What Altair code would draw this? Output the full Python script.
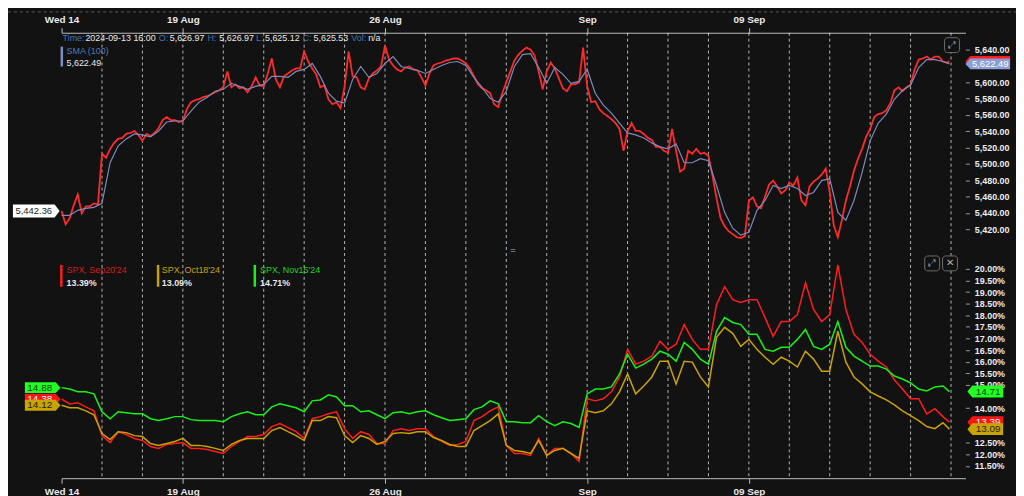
import altair as alt
import pandas as pd

FONT = "Liberation Sans"
BG = "#121212"

# ---------------- data ----------------
tick_days = [0, 3, 8, 13, 17]
tick_labels = ["Wed 14", "19 Aug", "26 Aug", "Sep", "09 Sep"]
day_breaks = list(range(1, 23))
# axis values shown (values hidden behind the value tags are left out)
price_ticks = [5420, 5440, 5460, 5480, 5500, 5520, 5540, 5560, 5580, 5600, 5640]
iv_ticks = [11.5, 12.0, 12.5, 14.0, 15.0, 15.5, 16.0, 16.5, 17.0,
            17.5, 18.0, 18.5, 19.0, 19.5, 20.0]

# SPX price, 10 readings per trading day (Aug 14 .. Sep 13)
price_by_day = [
    [5442.4, 5426.1, 5433.4, 5449.2, 5462.5, 5439.4, 5448.0, 5448.0, 5451.6, 5450.4],
    [5512.4, 5507.5, 5518.4, 5525.7, 5530.6, 5531.8, 5536.7, 5537.9, 5540.3, 5535.5],
    [5528.2, 5536.7, 5534.3, 5537.9, 5544.0, 5553.7, 5557.3, 5553.7, 5553.7, 5551.3],
    [5552.5, 5567.1, 5575.6, 5578.0, 5579.2, 5581.7, 5582.9, 5585.3, 5587.7, 5590.2],
    [5593.8, 5613.3, 5593.8, 5597.4, 5592.6, 5593.8, 5587.7, 5595.0, 5606.0, 5596.2],
    [5595.0, 5610.8, 5629.1, 5603.5, 5593.8, 5607.2, 5610.8, 5614.5, 5616.9, 5616.9],
    [5637.6, 5625.4, 5616.9, 5609.6, 5593.8, 5596.2, 5579.2, 5573.1, 5575.6, 5568.3],
    [5595.0, 5637.6, 5607.2, 5606.0, 5593.8, 5591.4, 5604.7, 5610.8, 5614.5, 5619.3],
    [5644.9, 5627.8, 5620.5, 5615.7, 5613.3, 5618.1, 5619.3, 5615.7, 5614.5, 5606.0],
    [5596.2, 5610.8, 5620.5, 5623.0, 5624.2, 5626.6, 5627.8, 5629.1, 5629.1, 5626.6],
    [5623.0, 5616.9, 5607.2, 5597.4, 5592.6, 5590.2, 5586.5, 5573.1, 5569.5, 5586.5],
    [5599.9, 5613.3, 5626.6, 5633.9, 5638.8, 5642.4, 5640.0, 5632.7, 5613.3, 5591.4],
    [5613.3, 5624.2, 5616.9, 5604.8, 5592.6, 5589.0, 5597.4, 5597.4, 5599.9, 5642.4],
    [5595.0, 5575.6, 5576.8, 5567.1, 5562.2, 5558.6, 5554.9, 5550.0, 5542.8, 5516.0],
    [5540.3, 5550.0, 5540.3, 5540.3, 5536.7, 5531.8, 5529.4, 5520.9, 5520.9, 5516.0],
    [5513.6, 5542.8, 5516.0, 5490.5, 5494.1, 5516.0, 5512.4, 5518.4, 5512.4, 5513.6],
    [5510.0, 5485.6, 5457.7, 5433.4, 5423.6, 5417.5, 5413.9, 5410.3, 5409.1, 5411.5],
    [5455.2, 5458.9, 5447.9, 5445.5, 5460.1, 5474.7, 5479.5, 5472.3, 5463.8, 5467.4],
    [5477.1, 5473.5, 5483.2, 5455.2, 5449.2, 5472.3, 5478.3, 5481.9, 5486.8, 5494.1],
    [5465.0, 5424.8, 5410.3, 5430.9, 5455.2, 5472.3, 5491.7, 5506.3, 5518.4, 5533.0],
    [5542.8, 5557.3, 5561.0, 5562.2, 5565.8, 5574.4, 5590.2, 5593.8, 5589.0, 5593.8],
    [5597.0, 5615.7, 5627.8, 5629.1, 5631.5, 5627.8, 5631.5, 5631.5, 5625.4, 5624.2],
]
price_first = 5442.36
price_close = 5625.53

# SMA(100), 5 readings per day
sma_by_day = [
    [5437.0, 5437.0, 5443.1, 5445.5, 5446.7],
    [5451.6, 5501.4, 5522.1, 5530.6, 5536.7],
    [5535.5, 5533.0, 5540.3, 5551.3, 5552.5],
    [5552.5, 5564.6, 5575.6, 5581.7, 5589.0],
    [5591.4, 5598.7, 5595.0, 5591.4, 5595.0],
    [5597.4, 5607.2, 5607.2, 5606.0, 5613.3],
    [5615.7, 5623.0, 5607.2, 5586.5, 5576.8],
    [5574.4, 5603.5, 5619.3, 5606.0, 5610.8],
    [5623.0, 5631.5, 5619.3, 5616.9, 5614.5],
    [5610.8, 5615.7, 5620.5, 5624.2, 5625.4],
    [5620.5, 5606.0, 5593.8, 5580.4, 5575.6],
    [5589.0, 5619.3, 5633.9, 5635.1, 5618.1],
    [5598.7, 5618.1, 5609.6, 5598.7, 5601.1],
    [5615.7, 5586.5, 5571.9, 5562.2, 5550.0],
    [5537.9, 5535.5, 5531.8, 5525.7, 5520.9],
    [5518.4, 5524.5, 5501.4, 5501.4, 5506.3],
    [5503.9, 5473.5, 5440.6, 5421.2, 5412.7],
    [5416.3, 5443.1, 5455.2, 5473.5, 5469.8],
    [5473.5, 5469.8, 5461.3, 5465.0, 5479.5],
    [5482.0, 5440.6, 5430.9, 5455.2, 5489.3],
    [5528.2, 5550.0, 5561.0, 5579.2, 5590.2],
    [5596.2, 5618.1, 5627.8, 5627.8, 5625.4],
]
sma_last = 5622.49

# implied volatility (%), 5 readings per day
iv_sep = [
    [14.38, 14.18, 14.23, 14.05, 13.88], [12.81, 12.51, 12.98, 12.86, 12.69],
    [12.60, 12.34, 12.26, 12.43, 12.47], [12.51, 12.26, 12.26, 12.21, 12.13],
    [12.04, 12.34, 12.56, 12.77, 12.77], [12.86, 13.20, 13.33, 13.16, 12.98],
    [12.69, 13.54, 13.63, 13.75, 13.84], [13.11, 12.69, 12.98, 12.86, 12.47],
    [12.47, 13.03, 13.11, 13.03, 13.11], [13.11, 12.77, 12.56, 12.39, 12.43],
    [12.56, 13.46, 13.63, 13.88, 14.05], [12.39, 12.04, 12.04, 11.96, 12.69],
    [11.96, 12.26, 12.26, 12.04, 11.70], [14.40, 14.31, 14.40, 14.70, 15.34],
    [16.53, 15.89, 16.02, 16.24, 16.88], [16.53, 16.75, 17.60, 16.96, 16.53],
    [16.53, 18.46, 19.23, 18.67, 18.55], [18.67, 18.67, 17.90, 17.09, 17.73],
    [17.73, 18.03, 19.40, 18.25, 17.73], [18.03, 20.17, 18.25, 17.18, 16.83],
    [16.32, 16.02, 15.77, 15.21, 14.82], [14.40, 14.40, 13.75, 13.97, 13.63],
]
iv_oct = [
    [14.12, 14.01, 14.01, 13.88, 13.71], [12.90, 12.64, 12.98, 12.94, 12.81],
    [12.77, 12.47, 12.39, 12.47, 12.56], [12.69, 12.39, 12.39, 12.34, 12.26],
    [12.17, 12.43, 12.60, 12.69, 12.69], [12.69, 13.03, 13.16, 12.98, 12.81],
    [12.60, 13.46, 13.46, 13.63, 13.58], [12.81, 12.51, 12.81, 12.69, 12.43],
    [12.56, 12.90, 12.94, 12.90, 12.98], [12.98, 12.73, 12.60, 12.43, 12.34],
    [12.34, 13.03, 13.24, 13.46, 13.75], [12.39, 12.17, 12.13, 12.04, 12.60],
    [11.96, 12.17, 12.26, 12.04, 11.83], [13.88, 13.80, 13.88, 14.18, 14.70],
    [15.47, 14.61, 14.95, 15.34, 16.02], [16.02, 15.04, 16.02, 15.98, 15.34],
    [14.91, 17.05, 17.48, 17.22, 16.66], [16.96, 16.53, 16.19, 15.89, 16.19],
    [16.02, 15.77, 16.45, 16.11, 15.59], [15.59, 17.31, 15.98, 15.34, 15.04],
    [14.70, 14.52, 14.35, 14.14, 13.88], [13.67, 13.46, 13.20, 13.11, 13.37],
]
iv_nov = [
    [14.88, 14.82, 14.70, 14.70, 14.61], [13.84, 13.54, 13.84, 13.80, 13.75],
    [13.75, 13.54, 13.46, 13.54, 13.63], [13.63, 13.50, 13.46, 13.46, 13.46],
    [13.41, 13.63, 13.75, 13.84, 13.71], [13.71, 14.05, 14.18, 14.10, 14.01],
    [13.84, 14.31, 14.35, 14.57, 14.48], [14.10, 14.10, 13.84, 13.88, 13.71],
    [13.54, 13.80, 13.84, 13.75, 13.84], [13.88, 13.71, 13.58, 13.46, 13.50],
    [13.54, 13.93, 14.05, 14.31, 14.18], [13.41, 13.41, 13.37, 13.37, 13.67],
    [13.41, 13.24, 13.41, 13.33, 13.16], [14.61, 14.82, 14.82, 14.91, 15.47],
    [16.32, 15.72, 15.89, 16.11, 16.45], [16.32, 16.02, 16.83, 16.53, 16.11],
    [15.89, 17.31, 17.90, 17.69, 17.60], [17.18, 17.18, 16.53, 16.45, 16.62],
    [16.62, 16.96, 17.39, 16.66, 16.53], [16.75, 17.73, 16.62, 16.24, 16.02],
    [15.81, 15.81, 15.68, 15.38, 15.25], [15.08, 14.82, 14.74, 14.91, 14.95],
]
iv_names = ["SPX, Sep20'24", "SPX, Oct18'24", "SPX, Nov15'24"]
iv_last = [13.39, 13.09, 14.71]
iv_first = [14.38, 14.12, 14.88]
last_time = 21.96

header_texts = ["Time:", "2024-09-13 16:00", "O:", "5,626.97", "H:", "5,626.97",
                "L:", "5,625.12", "C:", "5,625.53", "Vol:", "n/a"]

# ---------------- tables ----------------
def series(by_day, n, last):
    t = [d + k / n for d in range(len(by_day)) for k in range(n)] + [last_time]
    v = [x for day in by_day for x in day] + [last]
    return pd.DataFrame({"t": t, "v": v})

price_df = series(price_by_day, 10, price_close)
sma_df = series(sma_by_day, 5, sma_last)
sep_df = series(iv_sep, 5, iv_last[0])
oct_df = series(iv_oct, 5, iv_last[1])
nov_df = series(iv_nov, 5, iv_last[2])
grid_df = pd.DataFrame({"t": day_breaks})

# ---------------- layout helpers ----------------
OX, OY = 62, 31          # page position of plot origin
W, H = 911, 449
X_DOM = [0, W / 40.75]

def px(x):
    return x - OX

def py(y):
    return y - OY

label_expr = " : ".join(
    f"datum.value == {d} ? '{s}'" for d, s in zip(tick_days, tick_labels)
) + " : ''"

xaxis_common = dict(values=tick_days, labelExpr=label_expr, title=None, grid=False,
                    domainColor="#bdbdbd", domainWidth=1, tickColor="#bdbdbd",
                    tickSize=5, labelColor="#e8e8e8", labelFont=FONT, labelFontSize=10,
                    labelFontWeight="bold", labelPadding=3, labelFlush=False,
                    labelOverlap=False)
x_top = alt.X("t:Q", scale=alt.Scale(domain=X_DOM, nice=False, zero=False),
              axis=alt.Axis(orient="top", **xaxis_common))
x_bot = alt.X("t:Q", scale=alt.Scale(domain=X_DOM, nice=False, zero=False),
              axis=alt.Axis(orient="bottom", **xaxis_common))

yaxis_common = dict(orient="right", title=None, grid=False, domain=False,
                    tickColor="#9a9a9a", tickSize=4, labelColor="#ececec",
                    labelFont=FONT, labelFontSize=9, labelFontWeight="bold",
                    labelPadding=5, labelOverlap=False, labelBound=False)
y_top = alt.Y("v:Q", scale=alt.Scale(domain=[5114.9, 5660.66], nice=False, zero=False),
              axis=alt.Axis(values=price_ticks, format=",.2f", **yaxis_common))
y_bot = alt.Y("v:Q", scale=alt.Scale(domain=[10.975, 30.18], nice=False, zero=False),
              axis=alt.Axis(values=iv_ticks,
                            labelExpr="format(datum.value, '.2f') + '%'",
                            **yaxis_common))


def text(s, x, y, color, size=9, weight="normal", align="left"):
    return alt.Chart(pd.DataFrame({"s": [s]})).mark_text(
        font=FONT, fontSize=size, fontWeight=weight, color=color, align=align,
        baseline="middle").encode(x=alt.value(px(x)), y=alt.value(py(y)), text="s:N")


def box(x1, y1, x2, y2, fill, stroke=None, radius=0, fill_opacity=1):
    kw = dict(fill=fill, fillOpacity=fill_opacity, cornerRadius=radius)
    if stroke:
        kw.update(stroke=stroke, strokeWidth=1)
    return alt.Chart(pd.DataFrame({"a": [0]})).mark_rect(**kw).encode(
        x=alt.value(px(x1)), x2=alt.value(px(x2)), y=alt.value(py(y1)), y2=alt.value(py(y2)))


def tag(value, label, fill, txt, shape, size, cx, tx, yenc, fs=10):
    df = pd.DataFrame({"v": [value], "s": [label]})
    base = alt.Chart(df)
    out = [base.mark_point(shape=shape, size=size, filled=True, color=fill, fill=fill,
                           opacity=1, strokeWidth=0)
           .encode(x=alt.value(px(cx)), y=yenc)]
    if label:
        out.append(base.mark_text(font=FONT, fontSize=fs, color=txt, align="center",
                                  baseline="middle")
                   .encode(x=alt.value(px(tx)), y=yenc, text="s:N"))
    return out


RIGHT_TAG = "M -1 0 L -0.778 -0.244 L 1 -0.244 L 1 0.244 L -0.778 0.244 Z"
RIGHT_IV_TAG = "M -1 0 L -0.722 -0.333 L 1 -0.333 L 1 0.333 L -0.722 0.333 Z"
LEFT_IV_TAG = "M -1 -0.306 L 0.722 -0.306 L 1 0 L 0.722 0.306 L -1 0.306 Z"
LEFT_TAG = "M -1 -0.277 L 0.787 -0.277 L 1 0 L 0.787 0.277 L -1 0.277 Z"

KEY = "#4275ab"
VAL = "#e8e8e8"
RED, GOLD, GREEN = "#ff1c1c", "#c9a200", "#19f019"

# ---------------- top panel ----------------
grid = alt.Chart(grid_df).mark_rule(color="#d2d2d2", strokeDash=[3, 3], strokeWidth=1,
                                    opacity=0.85).encode(x=x_top)
price_line = alt.Chart(price_df).mark_line(color="#ff2b2b", strokeWidth=1.8).encode(x=x_top, y=y_top)
sma_line = alt.Chart(sma_df).mark_line(color="#7d8ab8", strokeWidth=1.2).encode(x=x_top, y=y_top)

top_strip = alt.Chart(pd.DataFrame({"a": [0]})).mark_rule(
    color="#5a5a5a", strokeDash=[3, 3], strokeWidth=1).encode(
    x=alt.value(px(8)), x2=alt.value(px(1024)), y=alt.value(py(10)))

header_x = [63, 86, 160, 171, 209, 221, 258, 267, 305, 316, 354, 371]
top_layers = [top_strip, grid, price_line, sma_line]
for i, (s, x) in enumerate(zip(header_texts, header_x)):
    top_layers.append(text(s, x, 36, KEY if i % 2 == 0 else VAL))
top_layers += [
    box(61, 45, 63.5, 65, "#7d8cc4"),
    text("SMA (100)", 67, 49.5, "#4f7db5"),
    text(f"{sma_last:,.2f}", 67, 61.5, VAL),
    box(952, 36, 967, 51, BG, stroke="#6e6e6e", radius=3),
    text("\u2922", 959.5, 43.5, "#9a9a9a", size=10, align="center"),
    text("=", 517, 250, "#b0b0b0", size=10, align="center"),
]
top_layers += tag(price_close, "", RED, VAL, RIGHT_TAG, 2025, 995.5, 998, y_top)
top_layers += tag(sma_last, f"{sma_last:,.2f}", "#8a9ed8", "#ffffff", RIGHT_TAG, 2025, 995.5, 998, y_top, fs=9.5)
top_layers += tag(price_first, f"{price_first:,.2f}", "#ffffff", "#1e1e1e", LEFT_TAG, 2209, 36.5, 34, y_top, fs=9.5)
top = alt.layer(*top_layers)

# ---------------- bottom panel ----------------
iv_colors = [RED, GOLD, GREEN]
legend_colors = ["#d41c1c", "#c9a200", "#22d422"]
bot_layers = [
    alt.Chart(sep_df).mark_line(color=RED, strokeWidth=1.5).encode(x=x_bot, y=y_bot),
    alt.Chart(oct_df).mark_line(color=GOLD, strokeWidth=1.5).encode(x=x_bot, y=y_bot),
    alt.Chart(nov_df).mark_line(color=GREEN, strokeWidth=1.5).encode(x=x_bot, y=y_bot),
]
bar_x = [60.5, 158, 255.5]
name_x = [67, 163, 262]
for name, last, col, lc, bx, nx in zip(iv_names, iv_last, iv_colors, legend_colors, bar_x, name_x):
    bot_layers += [
        box(bx, 265, bx + 2.5, 287, col),
        text(name, nx, 270.5, lc),
        text(f"{last:.2f}%", nx, 283, VAL, weight="bold"),
    ]
bot_layers += [
    box(932, 256, 947, 271, BG, stroke="#6e6e6e", radius=3),
    text("\u2922", 939.5, 263.5, "#9a9a9a", size=10, align="center"),
    box(950, 256, 965, 271, BG, stroke="#6e6e6e", radius=3),
    text("\u2715", 957.5, 263.5, "#b0b0b0", size=10, align="center"),
]
# right-edge value tags
bot_layers += tag(iv_last[2], f"{iv_last[2]:.2f}", "#22ff22", "#0c3d0c", RIGHT_IV_TAG, 1296, 993, 996, y_bot)
bot_layers += tag(iv_last[0], f"{iv_last[0]:.2f}", "#ff1414", "#ffffff", RIGHT_IV_TAG, 1296, 993, 996, y_bot)
bot_layers += tag(iv_last[1], f"{iv_last[1]:.2f}", "#c8a400", "#2b2300", RIGHT_IV_TAG, 1296, 993, 996, y_bot)
# left-edge first-value tags
bot_layers += tag(iv_first[0], f"{iv_first[0]:.2f}", "#ff1414", "#ffffff", LEFT_IV_TAG, 1296, 43, 40, y_bot)
bot_layers += tag(iv_first[2], f"{iv_first[2]:.2f}", "#22ff22", "#0c3d0c", LEFT_IV_TAG, 1296, 43, 40, y_bot)
bot_layers += tag(iv_first[1], f"{iv_first[1]:.2f}", "#c8a400", "#2b2300", LEFT_IV_TAG, 1296, 43, 40, y_bot)
bottom = alt.layer(*bot_layers)

chart = (
    alt.layer(top, bottom)
    .resolve_scale(x="independent", y="independent")
    .properties(width=W, height=H,
                padding={"left": 54, "top": 23, "right": 51, "bottom": 16},
                autosize=alt.AutoSizeParams(type="none"),
                background=BG)
    .configure_view(strokeWidth=0)
)

chart.save("out.html", embed_options={"renderer": "svg", "actions": False})
